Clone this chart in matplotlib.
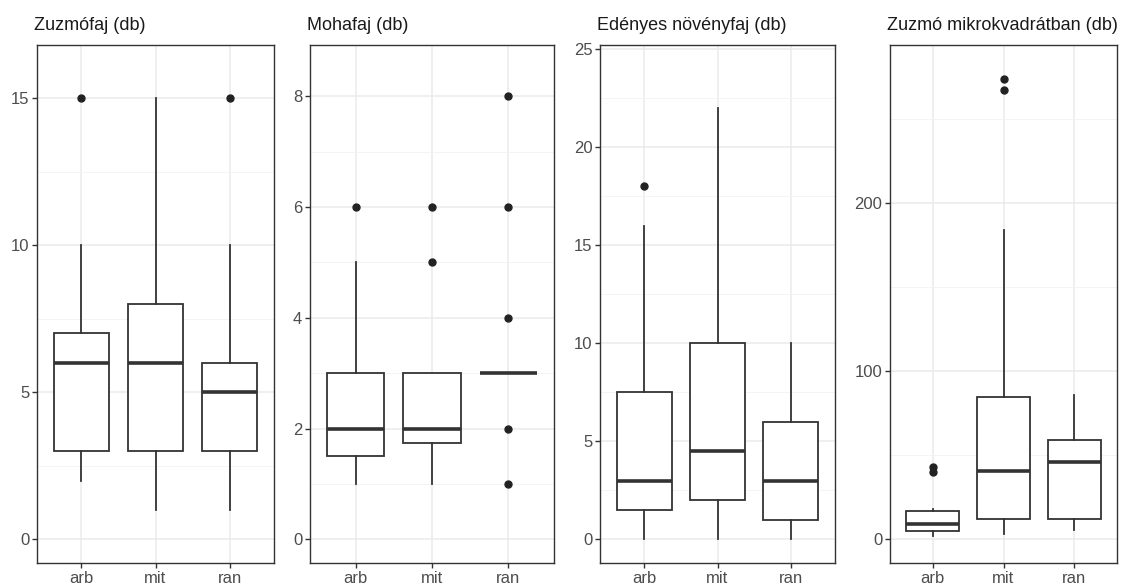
import matplotlib
matplotlib.use("Agg")
import matplotlib.pyplot as plt
from matplotlib.ticker import MultipleLocator

plt.rcParams['font.family'] = ['Liberation Sans', 'DejaVu Sans']

groups = ["arb", "mit", "ran"]

titles = ["Zuzmófaj (db)", "Mohafaj (db)", "Edényes növényfaj (db)", "Zuzmó mikrokvadrátban (db)"]

# per group: whisker low, Q1, median, Q3, whisker high
zuzmofaj_stats = [[2, 3, 6, 7, 10], [1, 3, 6, 8, 15], [1, 3, 5, 6, 10]]
zuzmofaj_out = [[15], [], [15]]

mohafaj_stats = [[1, 1.5, 2, 3, 5], [1, 1.75, 2, 3, 3], [3, 3, 3, 3, 3]]
mohafaj_out = [[6], [5, 6], [1, 2, 4, 6, 8]]

edenyes_stats = [[0, 1.5, 3, 7.5, 16], [0, 2, 4.5, 10, 22], [0, 1, 3, 6, 10]]
edenyes_out = [[18], [], []]

mikro_stats = [[2, 5, 9.4, 16.9, 17.9], [3, 12.4, 41, 85, 184], [5.6, 12.4, 46, 59, 86]]
mikro_out = [[40, 43.3], [267, 274], []]

panels = [
    (zuzmofaj_stats, zuzmofaj_out, (-0.8, 16.8), 5, 2.5),
    (mohafaj_stats, mohafaj_out, (-0.425, 8.925), 2, 1),
    (edenyes_stats, edenyes_out, (-1.2, 25.2), 5, 2.5),
    (mikro_stats, mikro_out, (-14, 294), 100, 50),
]

# panel pixel extents (left, right) ; top 45, bottom 563
W, H = 1126, 585
xext = [(37, 274), (310, 554), (600, 835), (890, 1117)]
top, bot = 45, 563

fig = plt.figure(figsize=(W / 100, H / 100), dpi=100)
dark = "#333333"

for i, (stats, outs, ylim, major, minor) in enumerate(panels):
    l, r = xext[i]
    ax = fig.add_axes([l / W, (H - bot) / H, (r - l) / W, (bot - top) / H])
    bxp = []
    for g, s, o in zip(groups, stats, outs):
        bxp.append(dict(label=g, whislo=s[0], q1=s[1], med=s[2], q3=s[3], whishi=s[4], fliers=o))
    ax.bxp(bxp, positions=[1, 2, 3], widths=0.75, showcaps=False, patch_artist=True,
           boxprops=dict(facecolor="white", edgecolor=dark, linewidth=1.3),
           whiskerprops=dict(color=dark, linewidth=1.3),
           medianprops=dict(color=dark, linewidth=2.6, solid_capstyle="butt"),
           flierprops=dict(marker="o", markerfacecolor="#222222", markeredgecolor="#222222",
                           markersize=5, linestyle="none"))
    ax.set_xlim(0.4, 3.6)
    ax.set_ylim(*ylim)
    ax.yaxis.set_major_locator(MultipleLocator(major))
    ax.yaxis.set_minor_locator(MultipleLocator(minor))
    ax.set_axisbelow(True)
    ax.grid(True, which="major", color="#EBEBEB", linewidth=1.1)
    ax.grid(True, which="minor", axis="y", color="#F2F2F2", linewidth=0.6)
    for sp in ax.spines.values():
        sp.set_color(dark)
        sp.set_linewidth(1.0)
    ax.tick_params(axis="both", which="major", length=3.5, width=1.0, color=dark,
                   labelsize=12, labelcolor="#4D4D4D", pad=2)
    ax.tick_params(axis="y", which="minor", length=0)
    ax.set_xticks([1, 2, 3])
    ax.set_xticklabels(groups)
    ax.text(-3 / (r - l), 1 + (top - 25) / (bot - top), titles[i], transform=ax.transAxes,
            ha="left", va="center", fontsize=13, color="#1A1A1A")

fig.savefig("out.png", dpi=100)
